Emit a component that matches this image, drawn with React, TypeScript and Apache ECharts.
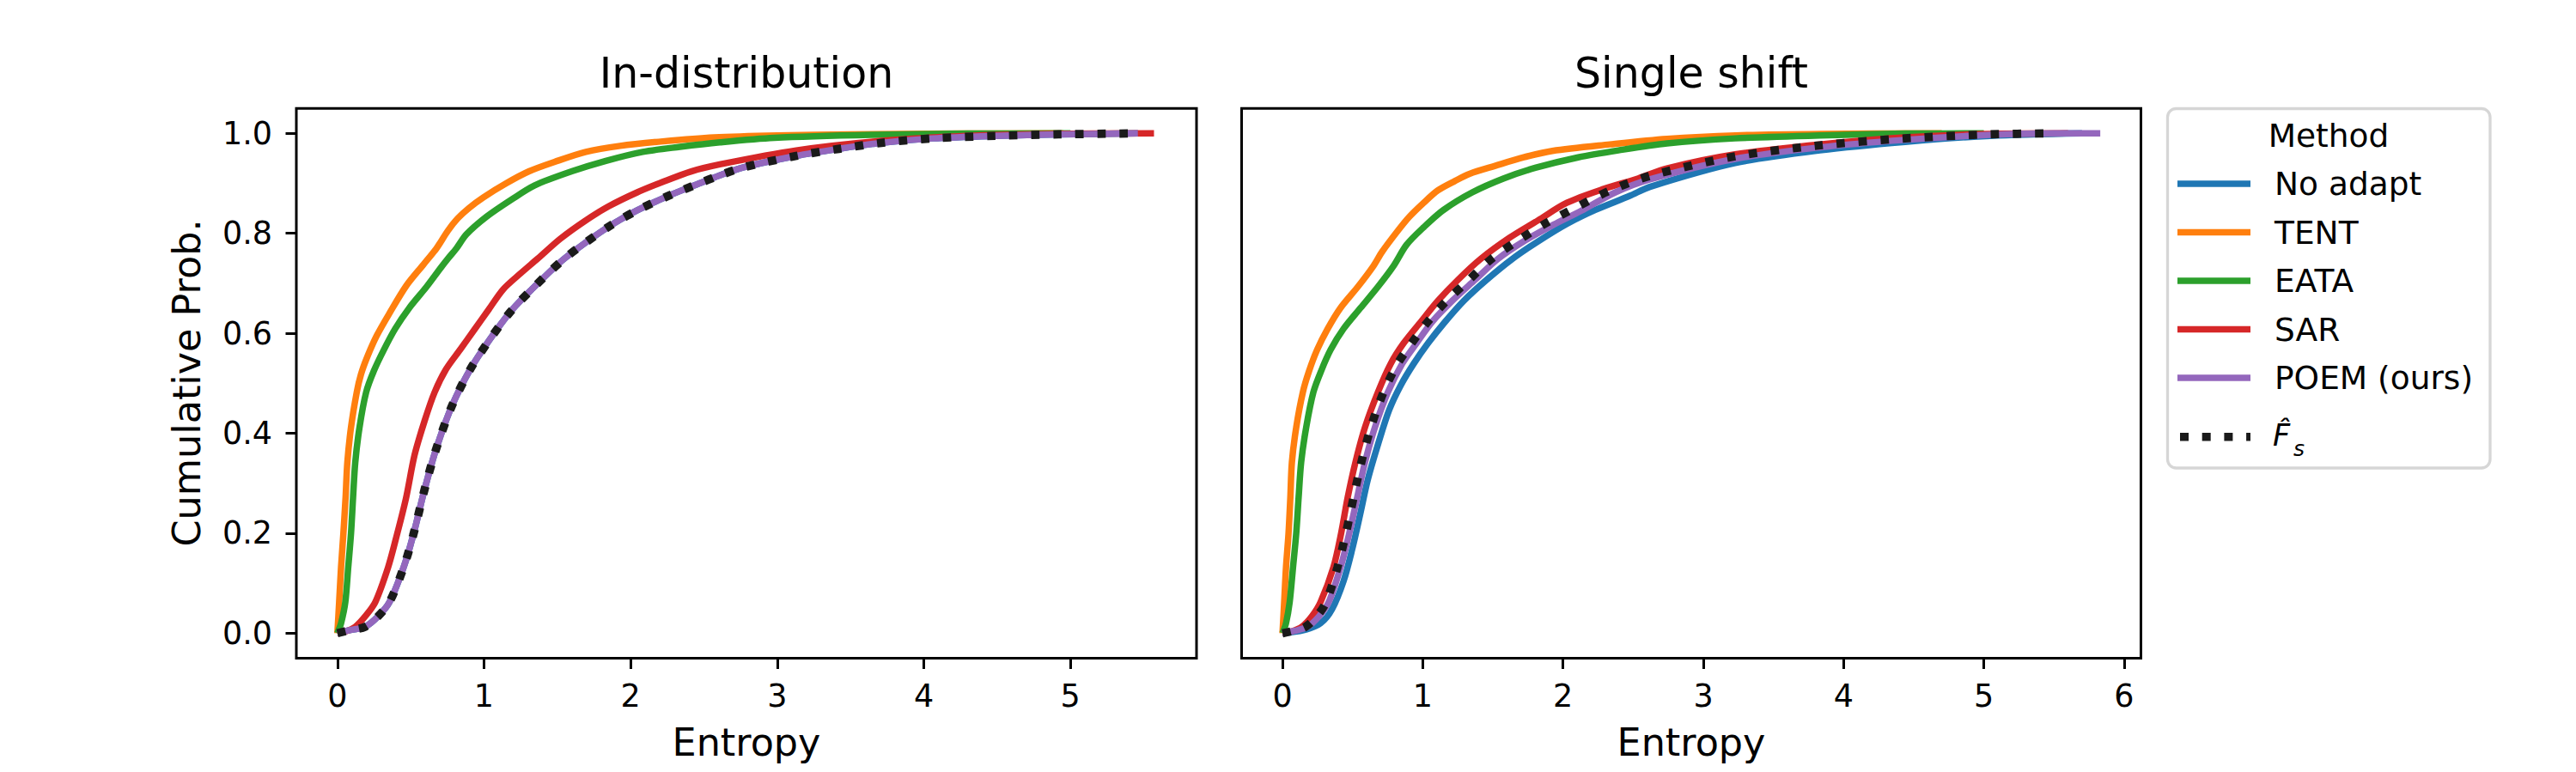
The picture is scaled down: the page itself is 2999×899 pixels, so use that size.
import React, { useEffect, useRef } from "react";
import * as echarts from "echarts";

const FONT = "DejaVu Sans";

// ---- tick labels ----
const X_TICKS_ID = [0, 1, 2, 3, 4, 5];
const X_TICKS_SS = [0, 1, 2, 3, 4, 5, 6];
const Y_TICKS = [0, 0.2, 0.4, 0.6, 0.8, 1.0];

const METHODS = ["No adapt", "TENT", "EATA", "SAR", "POEM (ours)"];
const COLORS = ["#1f77b4", "#ff7f0e", "#2ca02c", "#d62728", "#9467bd"];
const FS_COLOR = "#1a1a1a";

// ---- In-distribution: [entropy, cumulative prob] ----
const ID_POEM = [
  [0, 0], [0.083, 0.006], [0.19, 0.013], [0.278, 0.034], [0.355, 0.062], [0.452, 0.132],
  [0.517, 0.196], [0.595, 0.288], [0.673, 0.368], [0.78, 0.454], [0.906, 0.528], [1.033, 0.585],
  [1.18, 0.643], [1.326, 0.688], [1.53, 0.745], [1.695, 0.782],
  [1.87, 0.817], [2.045, 0.846], [2.258, 0.875], [2.452, 0.898], [2.608, 0.916], [2.77, 0.932],
  [3.13, 0.955], [3.42, 0.969], [3.71, 0.981], [4.06, 0.99], [4.49, 0.995], [4.92, 0.998], [5.46, 1.0],
];
const ID_NOADAPT = ID_POEM;
const ID_FS = ID_POEM;
const ID_TENT = [
  [0, 0], [0.012, 0.062], [0.025, 0.132], [0.041, 0.2], [0.056, 0.272], [0.068, 0.342],
  [0.093, 0.412], [0.132, 0.482], [0.161, 0.518], [0.204, 0.553], [0.268, 0.595], [0.355, 0.64],
  [0.472, 0.696], [0.588, 0.738], [0.676, 0.77], [0.753, 0.805], [0.821, 0.83], [0.899, 0.851],
  [0.996, 0.872], [1.151, 0.9], [1.307, 0.924], [1.482, 0.943], [1.695, 0.963], [1.928, 0.975],
  [2.219, 0.984], [2.569, 0.992], [3.0, 0.996], [3.5, 0.998], [4.2, 0.9995], [4.95, 1.0],
];
const ID_EATA = [
  [0, 0], [0.025, 0.02], [0.054, 0.062], [0.074, 0.132], [0.093, 0.2], [0.107, 0.272],
  [0.122, 0.342], [0.151, 0.412], [0.196, 0.482], [0.249, 0.525], [0.317, 0.567], [0.394, 0.609],
  [0.491, 0.651], [0.608, 0.693], [0.705, 0.731], [0.753, 0.749], [0.812, 0.77], [0.88, 0.798],
  [1.016, 0.833], [1.19, 0.868], [1.346, 0.896], [1.598, 0.924], [1.831, 0.945], [2.083, 0.963],
  [2.336, 0.973], [2.608, 0.982], [2.98, 0.991], [3.64, 0.997], [4.3, 0.9995], [5.0, 1.0],
];
const ID_SAR = [
  [0, 0], [0.06, 0.004], [0.122, 0.013], [0.19, 0.034], [0.258, 0.062], [0.346, 0.132],
  [0.4, 0.19], [0.468, 0.27], [0.526, 0.356], [0.595, 0.425], [0.663, 0.482], [0.741, 0.528],
  [0.839, 0.568], [0.936, 0.608], [1.033, 0.648], [1.131, 0.688], [1.25, 0.72], [1.365, 0.749],
  [1.52, 0.789], [1.695, 0.826], [1.85, 0.854], [2.045, 0.882], [2.22, 0.903], [2.414, 0.924],
  [2.608, 0.938], [3.13, 0.966], [3.71, 0.985], [4.29, 0.995], [4.87, 0.999], [5.57, 1.0],
];

// ---- Single shift ----
const SS_NOADAPT = [
  [0, 0], [0.149, 0.006], [0.271, 0.02], [0.353, 0.048], [0.435, 0.104], [0.496, 0.167],
  [0.553, 0.237], [0.608, 0.307], [0.68, 0.377], [0.761, 0.447], [0.843, 0.496], [0.935, 0.539],
  [1.037, 0.58], [1.159, 0.623], [1.292, 0.665], [1.455, 0.707], [1.639, 0.749], [1.822, 0.784],
  [2.027, 0.819], [2.231, 0.847], [2.476, 0.875], [2.619, 0.893], [3.226, 0.9405], [3.831, 0.966],
  [4.438, 0.983], [5.044, 0.995], [5.7, 1.0],
];
const SS_TENT = [
  [0, 0], [0.012, 0.062], [0.025, 0.132], [0.043, 0.2], [0.056, 0.272], [0.067, 0.342],
  [0.098, 0.412], [0.145, 0.482], [0.19, 0.525], [0.247, 0.567], [0.322, 0.609], [0.414, 0.651],
  [0.537, 0.693], [0.649, 0.735], [0.71, 0.763], [0.822, 0.805], [0.904, 0.833], [1.006, 0.861],
  [1.108, 0.886], [1.231, 0.905], [1.333, 0.919], [1.516, 0.935], [1.72, 0.952], [1.924, 0.965],
  [2.333, 0.978], [2.741, 0.989], [3.23, 0.996], [3.84, 0.999], [4.7, 1.0],
];
const SS_EATA = [
  [0, 0], [0.025, 0.02], [0.051, 0.062], [0.075, 0.132], [0.098, 0.2], [0.115, 0.272],
  [0.133, 0.342], [0.169, 0.412], [0.22, 0.482], [0.276, 0.525], [0.343, 0.567], [0.435, 0.609],
  [0.557, 0.651], [0.68, 0.693], [0.792, 0.735], [0.884, 0.777], [1.006, 0.812], [1.149, 0.847],
  [1.353, 0.882], [1.578, 0.91], [1.802, 0.931], [2.108, 0.952], [2.394, 0.966], [2.741, 0.98],
  [3.226, 0.99], [3.831, 0.996], [4.438, 0.9995], [5.0, 1.0],
];
const SS_SAR = [
  [0, 0], [0.07, 0.004], [0.139, 0.013], [0.21, 0.034], [0.271, 0.062], [0.363, 0.132],
  [0.418, 0.2], [0.465, 0.272], [0.52, 0.342], [0.588, 0.412], [0.68, 0.482], [0.771, 0.539],
  [0.863, 0.58], [0.986, 0.623], [1.108, 0.665], [1.251, 0.707], [1.414, 0.749], [1.618, 0.791],
  [1.822, 0.826], [2.027, 0.861], [2.292, 0.889], [2.537, 0.91], [2.741, 0.93], [3.226, 0.958],
  [3.831, 0.978], [4.438, 0.992], [5.044, 0.999], [5.6, 1.0],
];
const SS_POEM = [
  [0, 0], [0.09, 0.005], [0.18, 0.013], [0.261, 0.034], [0.329, 0.062], [0.414, 0.132],
  [0.476, 0.2], [0.533, 0.272], [0.588, 0.342], [0.659, 0.412], [0.751, 0.482], [0.853, 0.539],
  [0.955, 0.58], [1.067, 0.623], [1.21, 0.665], [1.373, 0.707], [1.537, 0.749], [1.72, 0.784],
  [1.924, 0.816], [2.129, 0.845], [2.373, 0.882], [2.619, 0.908], [3.226, 0.949], [3.831, 0.972],
  [4.438, 0.987], [5.044, 0.997], [5.5, 1.0], [5.83, 1.0],
];
const SS_FS = [
  [0, 0], [0.08, 0.005], [0.165, 0.013], [0.245, 0.034], [0.31, 0.062], [0.392, 0.132],
  [0.452, 0.2], [0.507, 0.272], [0.562, 0.342], [0.63, 0.412], [0.72, 0.482], [0.82, 0.539],
  [0.92, 0.58], [1.035, 0.623], [1.17, 0.665], [1.33, 0.707], [1.49, 0.749], [1.67, 0.784],
  [1.87, 0.819], [2.08, 0.85], [2.33, 0.885], [2.619, 0.915], [3.226, 0.954], [3.831, 0.976],
  [4.438, 0.99], [5.044, 0.998], [5.49, 1.0],
];

const ID_SERIES = [ID_NOADAPT, ID_TENT, ID_EATA, ID_SAR, ID_POEM];
const SS_SERIES = [SS_NOADAPT, SS_TENT, SS_EATA, SS_SAR, SS_POEM];

// ---- layout ----
const GRID_TOP = 126.2;
const GRID_H = 640.3;
const G1 = { left: 345, width: 1048 };
const G2 = { left: 1445.5, width: 1047 };

function lineSeries(name: string, data: number[][], color: string, gi: number, dotted = false) {
  return {
    type: "line",
    name,
    data,
    xAxisIndex: gi,
    yAxisIndex: gi,
    showSymbol: false,
    symbol: "none",
    smooth: 0.3,
    clip: true,
    lineStyle: dotted
      ? { color, width: 9.7, type: [9.7, 16], cap: "butt" }
      : { color, width: 7.5, cap: "butt", join: "round" },
    emphasis: { disabled: true },
    silent: true,
    z: dotted ? 5 : 3,
  };
}

function xAxis(gi: number, min: number, max: number, ticks: number[]) {
  return {
    type: "value",
    gridIndex: gi,
    min,
    max,
    axisLine: { show: false, onZero: false },
    axisTick: { show: true, customValues: ticks, length: 12.5, lineStyle: { color: "#000", width: 3 } },
    axisLabel: {
      customValues: ticks,
      fontSize: 36.5,
      fontFamily: FONT,
      color: "#000",
      margin: 25,
      formatter: (v: number) => String(Math.round(v)),
    },
    splitLine: { show: false },
  };
}

function yAxis(gi: number, showTicks: boolean) {
  return {
    type: "value",
    gridIndex: gi,
    min: -0.05,
    max: 1.05,
    axisLine: { show: false, onZero: false },
    axisTick: { show: showTicks, customValues: Y_TICKS, length: 12.5, lineStyle: { color: "#000", width: 3 } },
    axisLabel: {
      show: showTicks,
      customValues: Y_TICKS,
      fontSize: 36.5,
      fontFamily: FONT,
      color: "#000",
      margin: 28,
      formatter: (v: number) => v.toFixed(1),
    },
    splitLine: { show: false },
  };
}

function txt(text: string, x: number, y: number, size: number, align = "center", extra: any = {}) {
  return {
    type: "text",
    x,
    y,
    silent: true,
    ...extra,
    style: {
      text,
      x: 0,
      y: 0,
      fontSize: size,
      fontFamily: FONT,
      fill: "#000",
      align,
      verticalAlign: "middle",
      textAlign: align,
      textVerticalAlign: "middle",
      ...(extra.style || {}),
    },
  };
}

function buildLegend() {
  const els: any[] = [];
  els.push({
    type: "rect",
    shape: { x: 2523.5, y: 126.5, width: 375.5, height: 418.5, r: 10 },
    style: { fill: "#ffffff", stroke: "#d6d6d6", lineWidth: 3.3 },
    z: 10,
  });
  els.push({ ...txt("Method", 2711, 157.5, 37.5), z: 11 });
  const rows = [214, 270.5, 327, 383.5, 440];
  METHODS.forEach((m, i) => {
    els.push({
      type: "line",
      shape: { x1: 2535, y1: rows[i], x2: 2620, y2: rows[i] },
      style: { stroke: COLORS[i], lineWidth: 7.5, lineCap: "butt" },
      z: 11,
    });
    els.push({ ...txt(m, 2648, rows[i], 37.5, "left"), z: 11 });
  });
  els.push({
    type: "line",
    shape: { x1: 2538, y1: 508.7, x2: 2620, y2: 508.7 },
    style: { stroke: FS_COLOR, lineWidth: 9.5, lineDash: [10, 15.7], lineCap: "butt" },
    z: 11,
  });
  els.push({ ...txt("F\u0302", 2646, 507, 35, "left", { style: { fontStyle: "italic" } }), z: 11 });
  els.push({ ...txt("s", 2670, 522, 25, "left", { style: { fontStyle: "italic" } }), z: 11 });
  return els;
}

export default function App() {
  const ref = useRef<HTMLDivElement>(null);
  useEffect(() => {
    if (!ref.current) return;
    const chart = echarts.init(ref.current, undefined, { renderer: "svg" });
    const series: any[] = [];
    ID_SERIES.forEach((d, i) => series.push(lineSeries(METHODS[i], d, COLORS[i], 0)));
    series.push(lineSeries("F\u0302s", ID_FS, FS_COLOR, 0, true));
    SS_SERIES.forEach((d, i) => series.push(lineSeries(METHODS[i], d, COLORS[i], 1)));
    series.push(lineSeries("F\u0302s", SS_FS, FS_COLOR, 1, true));

    const c1 = G1.left + G1.width / 2;
    const c2 = G2.left + G2.width / 2;
    chart.setOption({
      animation: false,
      backgroundColor: "#ffffff",
      textStyle: { fontFamily: FONT },
      grid: [
        { left: G1.left, top: GRID_TOP, width: G1.width, height: GRID_H, show: true, borderColor: "#000", borderWidth: 3, backgroundColor: "transparent", z: 6 },
        { left: G2.left, top: GRID_TOP, width: G2.width, height: GRID_H, show: true, borderColor: "#000", borderWidth: 3, backgroundColor: "transparent", z: 6 },
      ],
      xAxis: [xAxis(0, -0.28, 5.86, X_TICKS_ID), xAxis(1, -0.2915, 6.12, X_TICKS_SS)],
      yAxis: [yAxis(0, true), yAxis(1, false)],
      series,
      graphic: [
        txt("In-distribution", c1, 85.5, 49),
        txt("Single shift", c2, 85.5, 49),
        txt("Entropy", c1, 864, 44.5),
        txt("Entropy", c2, 864, 44.5),
        txt("Cumulative Prob.", 217, 446, 44.5, "center", { rotation: Math.PI / 2 }),
        ...buildLegend(),
      ],
    });
    return () => chart.dispose();
  }, []);
  return (
    <div
      ref={ref}
      style={{ position: "absolute", left: 0, top: 0, width: 2999, height: 899, background: "#fff" }}
    />
  );
}
